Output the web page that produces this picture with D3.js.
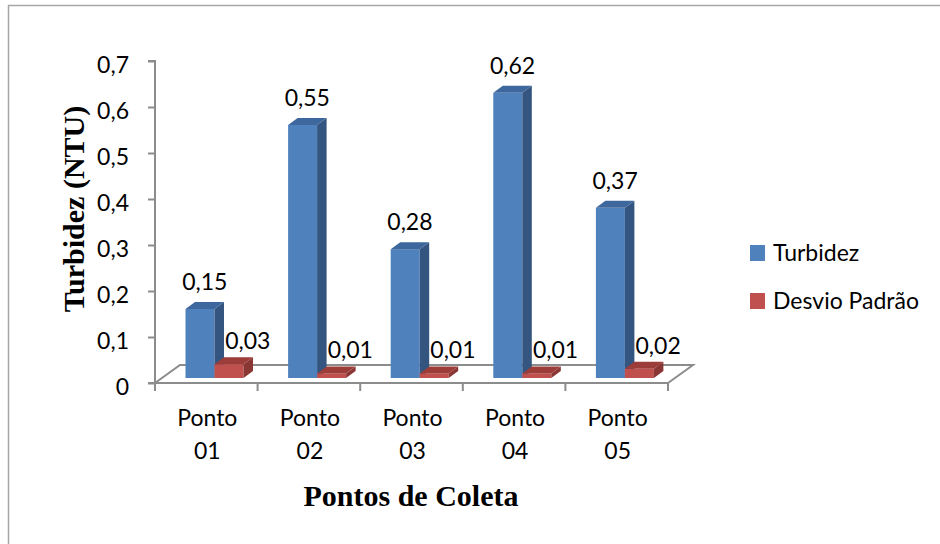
<!DOCTYPE html>
<html><head><meta charset="utf-8">
<script src="https://cdn.jsdelivr.net/npm/d3@7"></script>
<style>body{margin:0;background:#fff}svg{display:block}</style>
</head><body>
<svg id="c" width="940" height="544"></svg>
<script>
const categories = ["Ponto 01","Ponto 02","Ponto 03","Ponto 04","Ponto 05"];
const seriesNames = ["Turbidez","Desvio Padrão"];
const turbidez = [0.15,0.55,0.28,0.62,0.37];
const desvio = [0.03,0.01,0.01,0.01,0.02];
const yTicks = [0,0.1,0.2,0.3,0.4,0.5,0.6,0.7];
const yTitle = "Turbidez (NTU)";
const xTitle = "Pontos de Coleta";

const colors = {
  "Turbidez": {front:"#4F81BD", top:"#3E679D", side:"#34557F"},
  "Desvio Padrão": {front:"#C0504D", top:"#9D3D3A", side:"#8A3634"}
};
const fmt = v => d3.format(".2~f")(v).replace(".", ",");
const font = "Lato, 'Open Sans', sans-serif";
const fs = 23;

const svg = d3.select("#c");
svg.append("rect").attr("x",8.5).attr("y",5.5).attr("width",940).attr("height",545)
  .attr("fill","none").attr("stroke","#A6A6A6").attr("stroke-width",1.5);

const x = d3.scaleBand().domain(categories).range([155,668]).padding(0);
const y = d3.scaleLinear().domain([0,0.7]).range([383,61]);
const sub = d3.scaleBand().domain(seriesNames).range([30.5,88.5]).padding(0);
const depth = {dx:25, dy:-18};
const bdx = 9.5, bdy = -7, barLift = 5;
const axisColor = "#8C8C8C";

// floor
const fx0 = x.range()[0], fx1 = x.range()[1], fy = y(0);
svg.append("path")
  .attr("d", `M${fx0},${fy}L${fx0+depth.dx},${fy+depth.dy}L${fx1+depth.dx},${fy+depth.dy}L${fx1},${fy}`)
  .attr("fill","none").attr("stroke",axisColor).attr("stroke-width",2);

// y axis
const yAxis = d3.axisLeft(y).tickValues(yTicks).tickSize(7).tickPadding(19)
  .tickFormat(d => fmt(d));
const gy = svg.append("g").attr("transform",`translate(${fx0},0)`).call(yAxis);
gy.select(".domain").attr("stroke",axisColor).attr("stroke-width",2).attr("d",`M-7,${y(0.7)}H0V${y(0)}H-7`);
gy.selectAll(".tick line").attr("stroke",axisColor).attr("stroke-width",2);
gy.selectAll(".tick text").attr("font-family",font).attr("font-size",fs).attr("fill","#000").attr("dy","0.5em");

// x axis: front edge + boundary ticks
svg.append("line").attr("x1",fx0).attr("x2",fx1).attr("y1",fy).attr("y2",fy)
  .attr("stroke",axisColor).attr("stroke-width",2);
const bounds = categories.map(c => x(c)).concat([fx1]);
svg.selectAll(".xt").data(bounds).join("line").attr("class","xt")
  .attr("x1",d=>d).attr("x2",d=>d).attr("y1",fy).attr("y2",fy+8)
  .attr("stroke",axisColor).attr("stroke-width",2);
const xl = svg.selectAll(".xl").data(categories).join("text").attr("class","xl")
  .attr("text-anchor","middle").attr("font-family",font).attr("font-size",fs).attr("fill","#000");
xl.each(function(c){
  const parts = c.split(" ");
  const t = d3.select(this);
  parts.forEach((p,i) => t.append("tspan").attr("x", x(c)+x.bandwidth()/2 + 1).attr("y", 426 + i*33).text(p));
});

// bars
const rows = [];
categories.forEach((c,i) => {
  rows.push({cat:c, s:"Turbidez", v:turbidez[i]});
  rows.push({cat:c, s:"Desvio Padrão", v:desvio[i]});
});
const g = svg.append("g");
rows.forEach(d => {
  const x0 = x(d.cat) + sub(d.s), x1 = x0 + sub.bandwidth();
  const yb = y(0) - barLift, yt = y(d.v) - barLift;
  const col = colors[d.s];
  g.append("rect").attr("x",x0).attr("y",yt).attr("width",x1-x0).attr("height",yb-yt).attr("fill",col.front);
  g.append("path").attr("d",`M${x1},${yt}L${x1+bdx},${yt+bdy}L${x1+bdx},${yb+bdy}L${x1},${yb}Z`).attr("fill",col.side);
  g.append("path").attr("d",`M${x0},${yt}L${x0+bdx},${yt+bdy}L${x1+bdx},${yt+bdy}L${x1},${yt}Z`).attr("fill",col.top);
  const isBlue = d.s === "Turbidez";
  g.append("text").attr("x",(x0+x1)/2 + bdx/2 + (isBlue?0:14))
    .attr("y", yt + bdy - (isBlue?12:8))
    .attr("text-anchor","middle").attr("font-family",font).attr("font-size",fs).attr("fill","#000")
    .text(fmt(d.v));
});

// titles
svg.append("text").attr("transform","translate(84,209) rotate(-90)")
  .attr("text-anchor","middle").attr("font-family","'Liberation Serif','Times New Roman',serif")
  .attr("font-weight","bold").attr("font-size",30).attr("fill","#000").text(yTitle);
svg.append("text").attr("x",411).attr("y",506)
  .attr("text-anchor","middle").attr("font-family","'Liberation Serif','Times New Roman',serif")
  .attr("font-weight","bold").attr("font-size",30).attr("fill","#000").text(xTitle);

// legend
const leg = svg.selectAll(".lg").data(seriesNames).join("g").attr("class","lg")
  .attr("transform",(d,i)=>`translate(750,${245 + i*48})`);
leg.append("rect").attr("width",15).attr("height",16).attr("fill",d=>colors[d].front);
leg.append("text").attr("x",23).attr("y",16).attr("font-family",font).attr("font-size",fs).attr("fill","#000").text(d=>d);
</script>
</body></html>
